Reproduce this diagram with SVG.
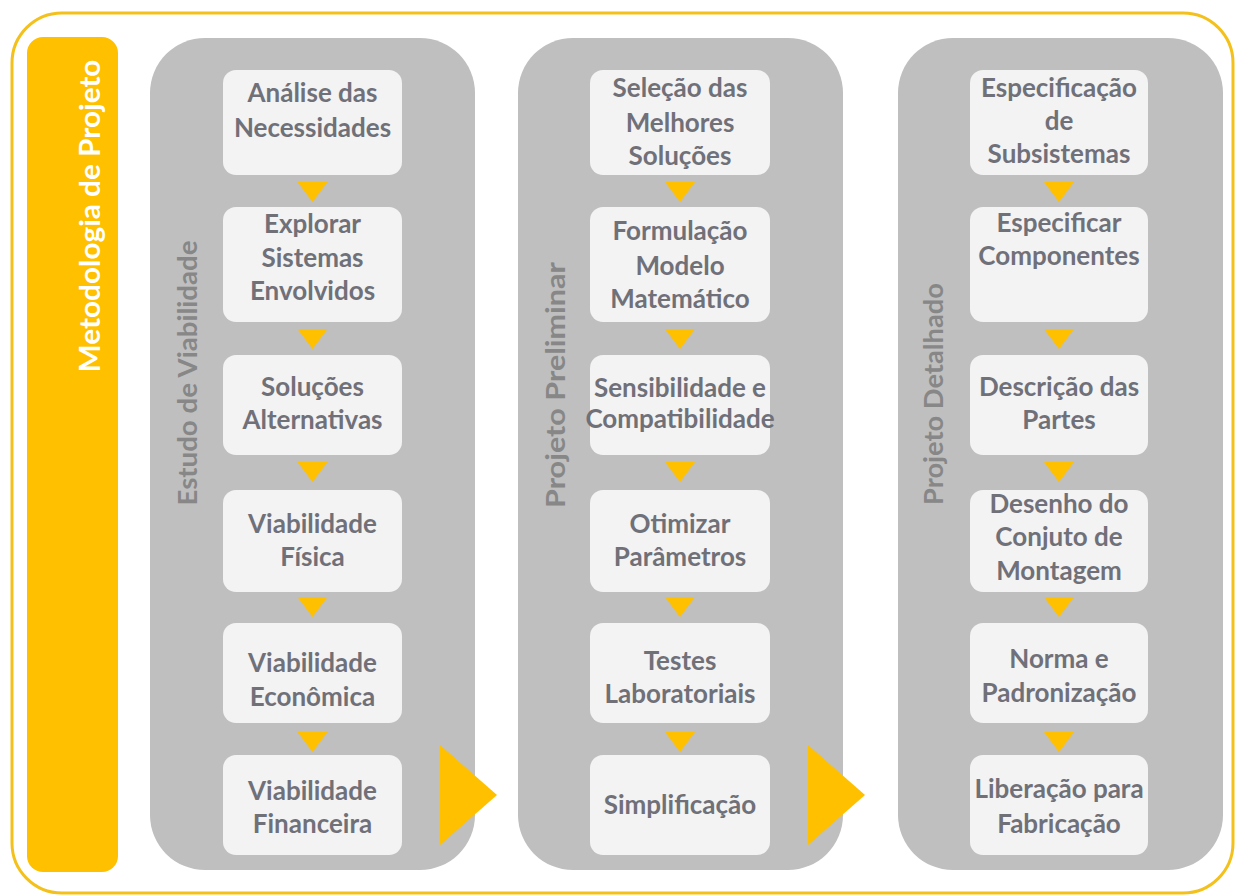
<svg xmlns="http://www.w3.org/2000/svg" width="1236" height="895" viewBox="0 0 1236 895">
<style>
.col{fill:#BFBFBF}
.box{fill:#F3F3F3}
.tri{fill:#FFC000}
.t{font-family:Lato,"Open Sans",sans-serif;font-weight:700;font-size:26px;fill:#707079;text-anchor:middle}
.lab{font-family:Lato,"Open Sans",sans-serif;font-weight:700;font-size:27px;fill:#878787;text-anchor:middle}
.main{font-family:Lato,"Open Sans",sans-serif;font-weight:700;font-size:28px;fill:#FFFFFF;text-anchor:middle}
</style>
<rect width="1236" height="895" fill="#FFFFFF"/>
<rect id="frame" x="12" y="13" width="1221" height="880" rx="50" fill="none" stroke="#F4C11C" stroke-width="3"/>
<g id="title">
<rect x="27" y="37" width="91" height="835" rx="16" fill="#FFC000"/>
<text class="main" transform="translate(100,216) rotate(-90)" textLength="313" lengthAdjust="spacingAndGlyphs">Metodologia de Projeto</text>
</g>
<g id="phase1">
<rect class="col" x="150" y="38" width="325" height="832" rx="55"/>
<text class="lab" transform="translate(197,373) rotate(-90)" textLength="265" lengthAdjust="spacingAndGlyphs">Estudo de Viabilidade</text>
</g>
<g id="phase2">
<rect class="col" x="518" y="38" width="325" height="832" rx="55"/>
<text class="lab" transform="translate(565,385) rotate(-90)" textLength="246" lengthAdjust="spacingAndGlyphs">Projeto Preliminar</text>
</g>
<g id="phase3">
<rect class="col" x="898" y="38" width="325" height="832" rx="55"/>
<text class="lab" transform="translate(943,394) rotate(-90)" textLength="222" lengthAdjust="spacingAndGlyphs">Projeto Detalhado</text>
</g>
<g id="c1r1"><rect class="box" x="223" y="70" width="179" height="105" rx="13"/><text class="t" x="312.5" y="102">Análise das</text><text class="t" x="312.5" y="137">Necessidades</text></g>
<g id="c1r2"><rect class="box" x="223" y="207" width="179" height="115" rx="13"/><text class="t" x="312.5" y="233">Explorar</text><text class="t" x="312.5" y="267">Sistemas</text><text class="t" x="312.5" y="300">Envolvidos</text></g>
<g id="c1r3"><rect class="box" x="223" y="355" width="179" height="100" rx="13"/><text class="t" x="312.5" y="396">Soluções</text><text class="t" x="312.5" y="429">Alternativas</text></g>
<g id="c1r4"><rect class="box" x="223" y="490" width="179" height="102" rx="13"/><text class="t" x="312.5" y="533">Viabilidade</text><text class="t" x="312.5" y="566">Física</text></g>
<g id="c1r5"><rect class="box" x="223" y="623" width="179" height="100" rx="13"/><text class="t" x="312.5" y="672">Viabilidade</text><text class="t" x="312.5" y="706">Econômica</text></g>
<g id="c1r6"><rect class="box" x="223" y="755" width="179" height="100" rx="13"/><text class="t" x="312.5" y="800">Viabilidade</text><text class="t" x="312.5" y="833">Financeira</text></g>
<g id="c2r1"><rect class="box" x="590" y="70" width="180" height="105" rx="13"/><text class="t" x="680" y="97">Seleção das</text><text class="t" x="680" y="132">Melhores</text><text class="t" x="680" y="165">Soluções</text></g>
<g id="c2r2"><rect class="box" x="590" y="207" width="180" height="115" rx="13"/><text class="t" x="680" y="240">Formulação</text><text class="t" x="680" y="275">Modelo</text><text class="t" x="680" y="308">Matemático</text></g>
<g id="c2r3"><rect class="box" x="590" y="355" width="180" height="100" rx="13"/><text class="t" x="680" y="397">Sensibilidade e</text><text class="t" x="680" y="428">Compatibilidade</text></g>
<g id="c2r4"><rect class="box" x="590" y="490" width="180" height="102" rx="13"/><text class="t" x="680" y="533">Otimizar</text><text class="t" x="680" y="566">Parâmetros</text></g>
<g id="c2r5"><rect class="box" x="590" y="623" width="180" height="100" rx="13"/><text class="t" x="680" y="670">Testes</text><text class="t" x="680" y="703">Laboratoriais</text></g>
<g id="c2r6"><rect class="box" x="590" y="755" width="180" height="100" rx="13"/><text class="t" x="680" y="814">Simplificação</text></g>
<g id="c3r1"><rect class="box" x="970" y="70" width="178" height="105" rx="13"/><text class="t" x="1059" y="97">Especificação</text><text class="t" x="1059" y="130">de</text><text class="t" x="1059" y="163">Subsistemas</text></g>
<g id="c3r2"><rect class="box" x="970" y="207" width="178" height="115" rx="13"/><text class="t" x="1059" y="232">Especificar</text><text class="t" x="1059" y="265">Componentes</text></g>
<g id="c3r3"><rect class="box" x="970" y="355" width="178" height="100" rx="13"/><text class="t" x="1059" y="396">Descrição das</text><text class="t" x="1059" y="429">Partes</text></g>
<g id="c3r4"><rect class="box" x="970" y="490" width="178" height="102" rx="13"/><text class="t" x="1059" y="513">Desenho do</text><text class="t" x="1059" y="546">Conjuto de</text><text class="t" x="1059" y="580">Montagem</text></g>
<g id="c3r5"><rect class="box" x="970" y="623" width="178" height="100" rx="13"/><text class="t" x="1059" y="668">Norma e</text><text class="t" x="1059" y="702">Padronização</text></g>
<g id="c3r6"><rect class="box" x="970" y="755" width="178" height="100" rx="13"/><text class="t" x="1059" y="798">Liberação para</text><text class="t" x="1059" y="833">Fabricação</text></g>
<g id="connectors">
<defs><polygon id="dn" points="-15,0 15,0 0,20"/></defs>
<use href="#dn" class="tri" x="312.5" y="182"/><use href="#dn" class="tri" x="312.5" y="329"/><use href="#dn" class="tri" x="312.5" y="462"/><use href="#dn" class="tri" x="312.5" y="597"/><use href="#dn" class="tri" x="312.5" y="732"/>
<use href="#dn" class="tri" x="680" y="182"/><use href="#dn" class="tri" x="680" y="329"/><use href="#dn" class="tri" x="680" y="462"/><use href="#dn" class="tri" x="680" y="597"/><use href="#dn" class="tri" x="680" y="732"/>
<use href="#dn" class="tri" x="1059" y="182"/><use href="#dn" class="tri" x="1059" y="329"/><use href="#dn" class="tri" x="1059" y="462"/><use href="#dn" class="tri" x="1059" y="597"/><use href="#dn" class="tri" x="1059" y="732"/>
<polygon class="tri" points="440,745 497,795 440,845"/>
<polygon class="tri" points="808,745 865,795 808,845"/>
</g>
</svg>
